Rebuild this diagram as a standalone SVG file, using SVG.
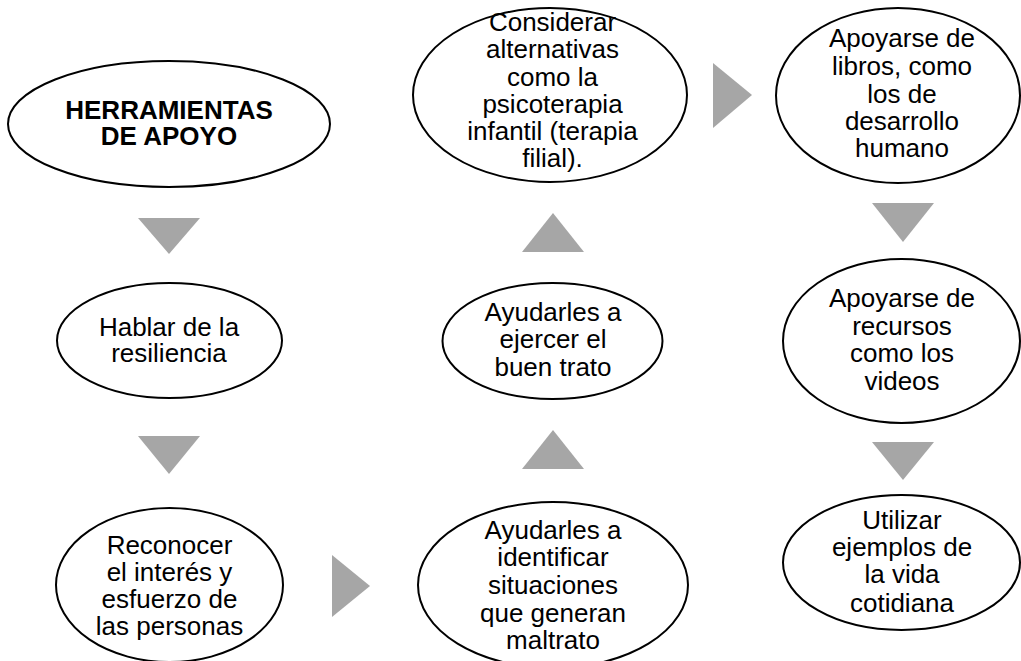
<svg xmlns="http://www.w3.org/2000/svg" width="1021" height="661" viewBox="0 0 1021 661">
<style>
.n{fill:#fff;stroke:#000;stroke-width:2}
.t{font-family:"Liberation Sans",Arial,sans-serif;font-size:26px;fill:#000;text-anchor:middle}
.b{font-weight:bold}
.a{fill:#a6a6a6;stroke:none}
</style>
<rect width="1021" height="661" fill="#fff"/>
<g id="connectors">
<polygon class="a" points="138,218 200,218 169,254"/>
<polygon class="a" points="138,436 200,436 169,474"/>
<polygon class="a" points="332,555 332,617 370,586"/>
<polygon class="a" points="522,469 584,469 553,430"/>
<polygon class="a" points="522,252 584,252 553,213"/>
<polygon class="a" points="713,63 713,128 752,95"/>
<polygon class="a" points="872,203 934,203 903,242"/>
<polygon class="a" points="872,442 934,442 903,480"/>
</g>
<g id="n1">
<ellipse class="n" cx="169" cy="124" rx="161" ry="63"/>
<text class="t b"><tspan x="169" y="119">HERRAMIENTAS</tspan><tspan x="169" y="145">DE APOYO</tspan></text>
</g>
<g id="n2">
<ellipse class="n" cx="169.5" cy="340.5" rx="112.5" ry="57.5"/>
<text class="t"><tspan x="169" y="336">Hablar de la</tspan><tspan x="169" y="362">resiliencia</tspan></text>
</g>
<g id="n3">
<ellipse class="n" cx="169.5" cy="585" rx="113.5" ry="77"/>
<text class="t"><tspan x="169.5" y="554">Reconocer</tspan><tspan x="169.5" y="581">el interés y</tspan><tspan x="169.5" y="608">esfuerzo de</tspan><tspan x="169.5" y="635">las personas</tspan></text>
</g>
<g id="n4">
<ellipse class="n" cx="553" cy="585" rx="135" ry="83"/>
<text class="t"><tspan x="553" y="539">Ayudarles a</tspan><tspan x="553" y="566">identificar</tspan><tspan x="553" y="594">situaciones</tspan><tspan x="553" y="622">que generan</tspan><tspan x="553" y="649">maltrato</tspan></text>
</g>
<g id="n5">
<ellipse class="n" cx="552.5" cy="341" rx="110" ry="58"/>
<text class="t"><tspan x="553" y="321">Ayudarles a</tspan><tspan x="553" y="348">ejercer el</tspan><tspan x="553" y="376">buen trato</tspan></text>
</g>
<g id="n6">
<ellipse class="n" cx="550" cy="95" rx="137" ry="87"/>
<text class="t"><tspan x="552.5" y="31">Considerar</tspan><tspan x="552.5" y="58">alternativas</tspan><tspan x="552.5" y="86">como la</tspan><tspan x="552.5" y="113">psicoterapia</tspan><tspan x="552.5" y="140">infantil (terapia</tspan><tspan x="552.5" y="167">filial).</tspan></text>
</g>
<g id="n7">
<ellipse class="n" cx="898" cy="95.5" rx="122" ry="87.5"/>
<text class="t"><tspan x="902" y="47">Apoyarse de</tspan><tspan x="902" y="75">libros, como</tspan><tspan x="902" y="103">los de</tspan><tspan x="902" y="130">desarrollo</tspan><tspan x="902" y="157">humano</tspan></text>
</g>
<g id="n8">
<ellipse class="n" cx="901.5" cy="341" rx="118.5" ry="82"/>
<text class="t"><tspan x="902" y="307">Apoyarse de</tspan><tspan x="902" y="335">recursos</tspan><tspan x="902" y="362">como los</tspan><tspan x="902" y="390">videos</tspan></text>
</g>
<g id="n9">
<ellipse class="n" cx="901.5" cy="562.5" rx="118.5" ry="67.5"/>
<text class="t"><tspan x="902" y="529">Utilizar</tspan><tspan x="902" y="556">ejemplos de</tspan><tspan x="902" y="583">la vida</tspan><tspan x="902" y="612">cotidiana</tspan></text>
</g>
</svg>
